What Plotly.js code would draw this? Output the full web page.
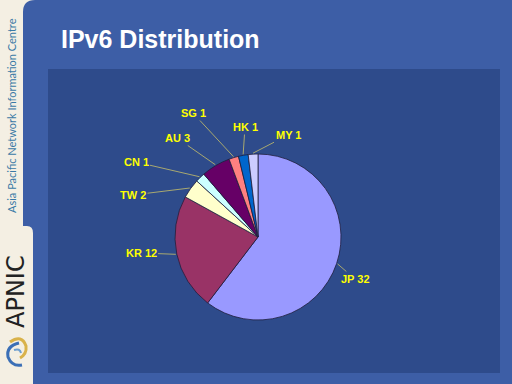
<!DOCTYPE html>
<html>
<head>
<meta charset="utf-8">
<script src="https://cdn.plot.ly/plotly-3.0.1.min.js"></script>
<style>html,body{margin:0;padding:0;background:#F4EFE3;}#chart{width:512px;height:384px;}</style>
</head>
<body>
<div id="chart"></div>
<script>
// ---- data ----
const countries = ['JP', 'KR', 'TW', 'CN', 'AU', 'SG', 'HK', 'MY'];
const counts = [32, 12, 2, 1, 3, 1, 1, 1];
const sliceColors = ['#9999FF', '#993366', '#FFFFCC', '#CCFFFF', '#660066', '#FF8080', '#0066CC', '#CCCCFF'];
const chartTitle = 'IPv6 Distribution';

// ---- layout helpers (pixel -> paper) ----
const W = 512, H = 384;
const fx = x => x / W;
const fy = y => 1 - y / H;
const cx = 258, cy = 237, R = 83;
// label text centres in pixels (layout)
const labelPos = {
  JP: [355, 279], KR: [141, 253], TW: [133, 195], CN: [136, 162],
  AU: [177, 138], SG: [193, 113], HK: [245, 127], MY: [288, 135]
};

const total = counts.reduce((a, b) => a + b, 0);
let cum = 0;
const annotations = [];
countries.forEach((c, i) => {
  const mid = (cum + counts[i] / 2) / total * 2 * Math.PI;
  cum += counts[i];
  const tx = cx + (R + 1) * Math.sin(mid);
  const ty = cy - (R + 1) * Math.cos(mid);
  const lp = labelPos[c];
  annotations.push({
    xref: 'paper', yref: 'paper', x: fx(tx), y: fy(ty),
    ax: lp[0] - tx, ay: lp[1] - ty,
    text: '<b>' + c + ' ' + counts[i] + '</b>',
    showarrow: true, arrowhead: 0, arrowwidth: 1, arrowcolor: '#A8A870',
    standoff: 0, startstandoff: 0,
    font: {family: 'Liberation Sans, Arial, sans-serif', size: 11, color: '#FFFF00'}
  });
});

// side texts
annotations.push({
  xref: 'paper', yref: 'paper', x: fx(12), y: fy(116), textangle: -90,
  xanchor: 'center', yanchor: 'middle',
  text: 'Asia Pacific Network Information Centre', showarrow: false,
  font: {family: 'Lato, sans-serif', size: 11, color: '#3A7AA6'}
});
annotations.push({
  xref: 'paper', yref: 'paper', x: fx(16), y: fy(292), textangle: -90,
  xanchor: 'center', yanchor: 'middle',
  text: 'APNIC', showarrow: false,
  font: {family: 'DejaVu Sans, sans-serif', size: 24, color: '#222222'}
});

const shapes = [
  // blue panel
  {type: 'path', xref: 'paper', yref: 'paper', layer: 'below', line: {width: 0}, fillcolor: '#3D5EA6',
   path: `M ${fx(33)},${fy(384)} L ${fx(33)},${fy(233)} Q ${fx(33)},${fy(226)} ${fx(27)},${fy(226)} L ${fx(23)},${fy(226)} L ${fx(23)},${fy(12)} Q ${fx(23)},${fy(0)} ${fx(35)},${fy(0)} L 1,1 L 1,0 Z`},
  // darker plot area
  {type: 'rect', xref: 'paper', yref: 'paper', layer: 'below', line: {width: 0}, fillcolor: '#2E4B8B',
   x0: fx(48), x1: fx(500), y0: fy(373), y1: fy(69)},
  // logo swirls
  {type: 'path', xref: 'paper', yref: 'paper', line: {color: '#D9B24A', width: 3},
   path: `M ${fx(10)},${fy(342)} Q ${fx(22)},${fy(334)} ${fx(26)},${fy(346)} Q ${fx(27)},${fy(354)} ${fx(20)},${fy(358)}`},
  {type: 'path', xref: 'paper', yref: 'paper', line: {color: '#3B6FB6', width: 3},
   path: `M ${fx(19)},${fy(343)} Q ${fx(6)},${fy(346)} ${fx(8)},${fy(357)} Q ${fx(12)},${fy(367)} ${fx(22)},${fy(365)}`},
  {type: 'path', xref: 'paper', yref: 'paper', line: {color: '#6E9FD0', width: 2},
   path: `M ${fx(14)},${fy(350)} Q ${fx(20)},${fy(348)} ${fx(21)},${fy(353)}`}
];

const trace = {
  type: 'pie', labels: countries, values: counts, sort: false,
  direction: 'clockwise', rotation: 0,
  marker: {colors: sliceColors, line: {color: '#1E1E3C', width: 0.8}},
  textinfo: 'none', hoverinfo: 'none', showlegend: false,
  domain: {x: [fx(cx - R), fx(cx + R)], y: [fy(cy + R), fy(cy - R)]}
};

const layout = {
  width: W, height: H, margin: {l: 0, r: 0, t: 0, b: 0},
  paper_bgcolor: '#F4EFE3', plot_bgcolor: 'rgba(0,0,0,0)',
  showlegend: false,
  title: {text: '<b>' + chartTitle + '</b>', x: fx(61), xanchor: 'left', y: fy(39), yanchor: 'middle',
          font: {family: 'Liberation Sans, Arial, sans-serif', size: 25, color: '#FFFFFF'}},
  shapes: shapes, annotations: annotations
};

Plotly.newPlot('chart', [trace], layout, {staticPlot: true, displayModeBar: false});
</script>
</body>
</html>
